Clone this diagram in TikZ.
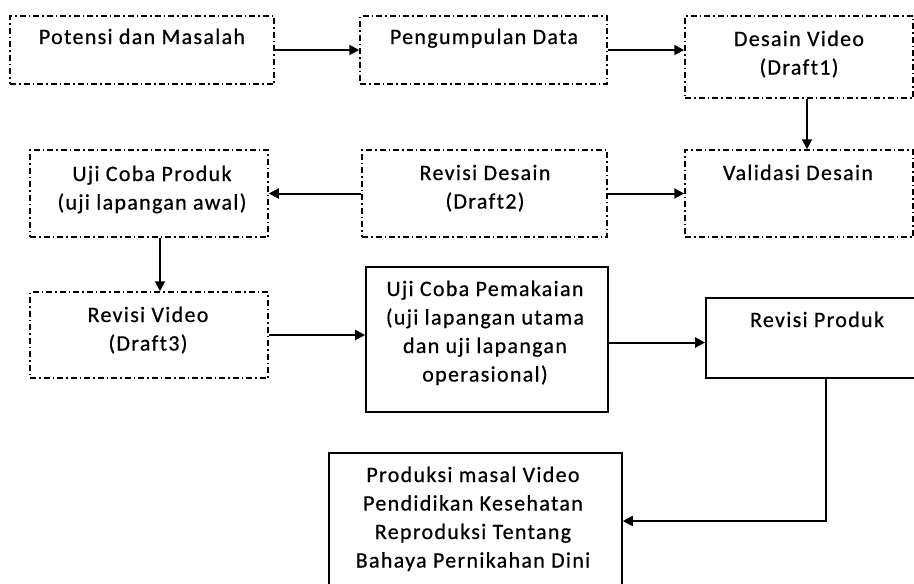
\documentclass[tikz,border=0pt]{standalone}
\usepackage{fontspec}
\setmainfont[LetterSpace=6,Ligatures=NoCommon,FakeBold=0.6]{Carlito}
\usetikzlibrary{arrows.meta}
\begin{document}
\begin{tikzpicture}[x=1pt,y=-1pt,
  dbox/.style={draw, line width=1.5pt, dash pattern=on 6pt off 3pt on 1.5pt off 3pt, inner sep=0pt},
  sbox/.style={draw, line width=1.6pt, inner sep=0pt},
  txt/.style={anchor=base, align=center, inner sep=0pt, font=\fontsize{22}{28.5}\selectfont},
  arr/.style={line width=2pt, -{Triangle[length=10pt,width=10pt]}}]
\useasboundingbox (0,0) rectangle (914,584);
% boxes
\node[dbox, minimum width=264pt, minimum height=68pt] (pot) at (142,50) {};
\node[dbox, minimum width=247pt, minimum height=68pt] (pen) at (483.5,50) {};
\node[dbox, minimum width=228pt, minimum height=82pt] (des) at (799,57) {};
\node[dbox, minimum width=228pt, minimum height=87pt] (val) at (799,193.5) {};
\node[dbox, minimum width=245pt, minimum height=87pt] (rd) at (484.5,193.5) {};
\node[dbox, minimum width=238pt, minimum height=87pt] (ucp) at (149,193.5) {};
\node[dbox, minimum width=238pt, minimum height=86pt] (rv) at (149,335) {};
\node[sbox, minimum width=242pt, minimum height=145pt] (pm) at (487,339.5) {};
\node[sbox, minimum width=214pt, minimum height=80pt] (rp) at (813,338) {};
\node[sbox, minimum width=293pt, minimum height=160pt] (prod) at (475.5,533) {};
% texts (anchor = baseline of last line)
\node[txt] at (142,44) {Potensi dan Masalah};
\node[txt] at (484,44) {Pengumpulan Data};
\node[txt] at (799,74.5) {Desain Video\\(Draft1)};
\node[txt] at (798,180) {Validasi Desain};
\node[txt] at (485,208.5) {Revisi Desain\\(Draft2)};
\node[txt] at (152,209.5) {Uji Coba Produk\\(uji lapangan awal)};
\node[txt] at (148,350.5) {Revisi Video\\(Draft3)};
\node[txt] at (485,381.5) {Uji Coba Pemakaian\\(uji lapangan utama\\dan uji lapangan\\operasional)};
\node[txt] at (817,327) {Revisi Produk};
\node[txt] at (473,567.5) {Produksi masal Video\\Pendidikan Kesehatan\\Reproduksi Tentang\\Bahaya Pernikahan Dini};
% connectors
\coordinate (turn) at (826,521);
\draw[arr] (pot.east) -- (pen.west);
\draw[arr] (pen.east) -- (pen.east -| des.west);
\draw[arr] ([xshift=8pt]des.south) -- ([xshift=8pt]val.north);
\draw[arr] (rd.east) -- (val.west);
\draw[arr] (rd.west) -- (ucp.east);
\draw[arr] ([xshift=11pt]ucp.south) -- ([xshift=11pt]rv.north);
\draw[arr] (rv.east) -- (rv.east -| pm.west);
\draw[arr] ([yshift=-3pt]pm.east) -- ([yshift=-3pt]pm.east -| rp.west);
\draw[arr] (rp.south -| turn) -- (turn) -- (turn -| prod.east);
\end{tikzpicture}
\end{document}
